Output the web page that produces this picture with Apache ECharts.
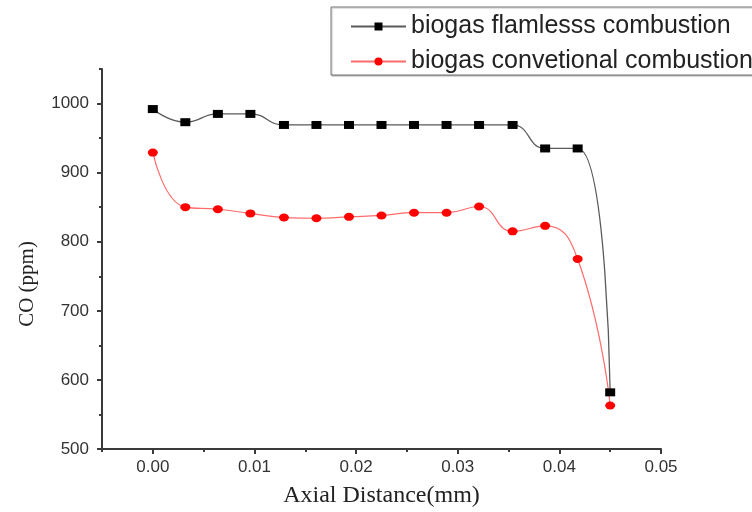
<!DOCTYPE html>
<html>
<head>
<meta charset="utf-8">
<script src="https://cdn.jsdelivr.net/npm/echarts@6/dist/echarts.min.js"></script>
<style>
html,body{margin:0;padding:0;background:#fff;}
#chart{width:752px;height:512px;}
</style>
</head>
<body>
<div id="chart"></div>
<script>
var axialDistance = [0, 0.0032, 0.0064, 0.0096, 0.0129, 0.0161, 0.0193, 0.0225, 0.0257, 0.0289, 0.0321, 0.0354, 0.0386, 0.0418, 0.045];
var flamelessCO = [992, 973, 985, 985, 969, 969, 969, 969, 969, 969, 969, 969, 935, 935, 582];
var conventionalCO = [929, 850, 847, 841, 835, 834, 836, 838, 842, 842, 851, 815, 823, 775, 563];
var seriesNames = ['biogas flamlesss combustion', 'biogas convetional combustion'];
var xTickLabels = [0, 0.01, 0.02, 0.03, 0.04, 0.05];
var xMinorTicks = [-0.005, 0.005, 0.015, 0.025, 0.035, 0.045];
var yTickLabels = [500, 600, 700, 800, 900, 1000];
var yMinorTicks = [550, 650, 750, 850, 950, 1050];

function pairs(xs, ys) { return xs.map(function (x, i) { return [x, ys[i]]; }); }

var axisColor = '#3a3a3a';
var chart = echarts.init(document.getElementById('chart'), null, {renderer: 'canvas'});
chart.setOption({
  backgroundColor: '#fff',
  animation: false,
  grid: {left: 102, right: 91, top: 69, bottom: 63, containLabel: false, outerBoundsMode: 'none'},
  legend: {
    orient: 'vertical',
    left: 331, top: 7,
    padding: [7, 60, 1, 19],
    itemGap: 10,
    itemWidth: 55, itemHeight: 10,
    borderColor: '#777', borderWidth: 1,
    backgroundColor: '#fff',
    shadowColor: 'rgba(0,0,0,0.25)', shadowOffsetX: 1, shadowOffsetY: 1, shadowBlur: 1,
    textStyle: {fontFamily: 'Liberation Sans, Arial, sans-serif', fontSize: 25, lineHeight: 24, color: '#222'},
    data: seriesNames
  },
  xAxis: [{
    type: 'value', min: -0.005, max: 0.05,
    name: 'Axial Distance(mm)', nameLocation: 'middle', nameGap: 35,
    nameTextStyle: {fontFamily: 'Liberation Serif, Times New Roman, serif', fontSize: 24, color: '#222'},
    axisLine: {show: true, onZero: false, lineStyle: {color: axisColor, width: 2}},
    axisTick: {show: true, length: 5, inside: false, customValues: xTickLabels, lineStyle: {color: axisColor, width: 2}},
    axisLabel: {customValues: xTickLabels, margin: 10, fontFamily: 'Liberation Sans, Arial, sans-serif', fontSize: 17, color: '#333',
      formatter: function (v) { return v.toFixed(2); }},
    splitLine: {show: false}
  }, {
    type: 'value', min: -0.005, max: 0.05, position: 'bottom',
    axisLine: {show: false, onZero: false},
    axisTick: {show: true, length: 3, customValues: xMinorTicks, lineStyle: {color: axisColor, width: 2}},
    axisLabel: {show: false},
    splitLine: {show: false}
  }],
  yAxis: [{
    type: 'value', min: 500, max: 1050,
    name: 'CO (ppm)', nameLocation: 'middle', nameGap: 64, nameRotate: 90,
    nameTextStyle: {fontFamily: 'Liberation Serif, Times New Roman, serif', fontSize: 21, color: '#222', padding: [0, 50, 0, 0]},
    axisLine: {show: true, onZero: false, lineStyle: {color: axisColor, width: 2}},
    axisTick: {show: true, length: 5, customValues: yTickLabels, lineStyle: {color: axisColor, width: 2}},
    axisLabel: {customValues: yTickLabels, margin: 13, fontFamily: 'Liberation Sans, Arial, sans-serif', fontSize: 17, color: '#333',
      formatter: function (v) { return String(v); }},
    splitLine: {show: false}
  }, {
    type: 'value', min: 500, max: 1050, position: 'left',
    axisLine: {show: false, onZero: false},
    axisTick: {show: true, length: 3, customValues: yMinorTicks, lineStyle: {color: axisColor, width: 2}},
    axisLabel: {show: false},
    splitLine: {show: false}
  }],
  series: [{
    name: seriesNames[0], type: 'line', smooth: 0.5,
    data: pairs(axialDistance, flamelessCO),
    symbol: 'rect', symbolSize: [10, 8],
    itemStyle: {color: '#000'},
    lineStyle: {color: '#5a5a5a', width: 1.3},
    z: 3
  }, {
    name: seriesNames[1], type: 'line', smooth: 0.5,
    data: pairs(axialDistance, conventionalCO),
    symbol: 'circle', symbolSize: [10, 8],
    itemStyle: {color: '#ff0000'},
    lineStyle: {color: '#ff6b6b', width: 1.2},
    z: 2
  }]
});
</script>
</body>
</html>
